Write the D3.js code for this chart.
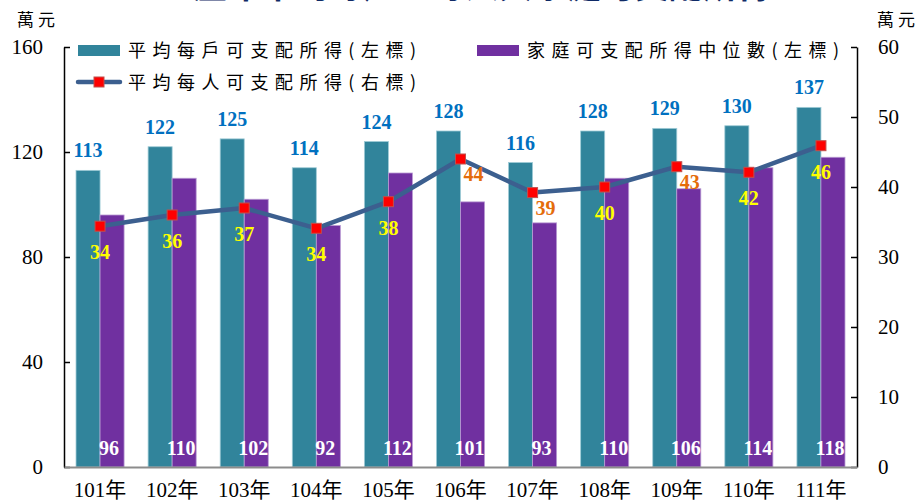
<!DOCTYPE html>
<html>
<head>
<meta charset="utf-8">
<script src="https://cdn.jsdelivr.net/npm/d3@7"></script>
<style>
  body { margin: 0; background: #fff; }
  svg { display: block; }
  .num { font-family: "Liberation Serif", "Times New Roman", serif; }
  .cjk { font-family: "Liberation Serif", "Noto Sans CJK TC", serif; }
</style>
</head>
<body>
<div id="chart"></div>
<script>
const years = ["101年", "102年", "103年", "104年", "105年", "106年", "107年", "108年", "109年", "110年", "111年"];
const avgHousehold = [113, 122, 125, 114, 124, 128, 116, 128, 129, 130, 137];
const medianHousehold = [96, 110, 102, 92, 112, 101, 93, 110, 106, 114, 118];
const avgPerPerson = [34.4, 36.0, 37.0, 34.1, 37.9, 44.0, 39.2, 40.0, 42.9, 42.1, 45.9];
const leftTicks = [0, 40, 80, 120, 160];
const rightTicks = [0, 10, 20, 30, 40, 50, 60];
// labels drawn in orange beside the marker instead of yellow below
const orangeLabels = ["106年", "107年", "109年"];

const width = 920;
const height = 502;
const margin = { top: 47, right: 63, bottom: 35, left: 64 };

const teal = "#31849B";
const purple = "#7030A0";
const lineColor = "#3C5F8F";

const svg = d3.select("#chart")
    .append("svg")
    .attr("width", width)
    .attr("height", height)
    .attr("viewBox", [0, 0, width, height]);

const x0 = d3.scaleBand()
    .domain(years)
    .range([margin.left, width - margin.right])
    .paddingInner(1 / 3)
    .paddingOuter(1 / 6);

const x1 = d3.scaleBand()
    .domain(["avg", "median"])
    .range([0, x0.bandwidth()]);

const yL = d3.scaleLinear().domain([0, 160]).range([height - margin.bottom, margin.top]);
const yR = d3.scaleLinear().domain([0, 60]).range([height - margin.bottom, margin.top]);

const cx = d => x0(d) + x0.bandwidth() / 2;

// title (cut off at the top of the picture, as in the source)
svg.append("text")
    .attr("x", 482)
    .attr("y", -2)
    .attr("text-anchor", "middle")
    .attr("font-family", "Noto Sans CJK TC")
    .attr("font-weight", "bold")
    .attr("font-size", 34)
    .attr("fill", "#0F2A66")
    .text("歷年平均每戶、每人與家庭可支配所得");

// unit labels
svg.append("text").attr("class", "cjk").attr("x", 17).attr("y", 26)
    .attr("font-size", 17).attr("letter-spacing", 4).text("萬元");
svg.append("text").attr("class", "cjk").attr("x", 877).attr("y", 26)
    .attr("font-size", 17).attr("letter-spacing", 4).text("萬元");

// bars
const groups = svg.append("g")
    .selectAll("g")
    .data(years)
    .join("g")
    .attr("transform", d => "translate(" + x0(d) + ",0)");

groups.append("rect")
    .attr("x", x1("avg"))
    .attr("width", x1.bandwidth())
    .attr("y", (d, i) => yL(avgHousehold[i]))
    .attr("height", (d, i) => yL(0) - yL(avgHousehold[i]))
    .attr("fill", teal)
    .attr("stroke", "#9FCBD6")
    .attr("stroke-width", 0.8);

groups.append("rect")
    .attr("x", x1("median"))
    .attr("width", x1.bandwidth())
    .attr("y", (d, i) => yL(medianHousehold[i]))
    .attr("height", (d, i) => yL(0) - yL(medianHousehold[i]))
    .attr("fill", purple)
    .attr("stroke", "#B89AD3")
    .attr("stroke-width", 0.8);

// bar value labels
groups.append("text")
    .attr("class", "num")
    .attr("x", x1("avg") + x1.bandwidth() / 2)
    .attr("y", (d, i) => yL(avgHousehold[i]) - 13)
    .attr("text-anchor", "middle")
    .attr("font-size", 20)
    .attr("font-weight", "bold")
    .attr("fill", "#0070C0")
    .text((d, i) => avgHousehold[i]);

groups.append("text")
    .attr("class", "num")
    .attr("x", x1("median") + x1.bandwidth() / 2 - 3)
    .attr("y", yL(0) - 12)
    .attr("text-anchor", "middle")
    .attr("font-size", 20)
    .attr("font-weight", "bold")
    .attr("fill", "#fff")
    .text((d, i) => medianHousehold[i]);

// axes
const axisL = svg.append("g")
    .attr("transform", "translate(" + margin.left + ",0)")
    .call(d3.axisLeft(yL).tickValues(leftTicks).tickSize(-6).tickSizeOuter(0).tickPadding(21));

const axisR = svg.append("g")
    .attr("transform", "translate(" + (width - margin.right) + ",0)")
    .call(d3.axisRight(yR).tickValues(rightTicks).tickSize(-6).tickSizeOuter(0).tickPadding(21));

const axisB = svg.append("g")
    .attr("transform", "translate(0," + yL(0) + ")")
    .call(d3.axisBottom(x0).tickSize(0).tickPadding(15));

[axisL, axisR].forEach(a => {
    a.select(".domain").attr("stroke", "#000").attr("stroke-width", 1.5);
    a.selectAll(".tick line").attr("stroke", "#000").attr("stroke-width", 1.5);
    a.selectAll("text")
        .attr("class", "num")
        .attr("font-size", 21)
        .attr("fill", "#000");
});
axisL.selectAll("text").attr("text-anchor", "end");
axisB.select(".domain").attr("stroke", "#8C8C8C").attr("stroke-width", 2);
axisB.selectAll("text")
    .attr("class", "cjk")
    .attr("font-size", 21)
    .attr("fill", "#000");

// line series on right axis
const line = d3.line()
    .x((d, i) => cx(years[i]))
    .y(d => yR(d));

svg.append("path")
    .datum(avgPerPerson)
    .attr("fill", "none")
    .attr("stroke", lineColor)
    .attr("stroke-width", 4.5)
    .attr("stroke-linejoin", "round")
    .attr("d", line);

svg.append("g")
    .selectAll("rect")
    .data(avgPerPerson)
    .join("rect")
    .attr("x", (d, i) => cx(years[i]) - 5)
    .attr("y", d => yR(d) - 5)
    .attr("width", 10)
    .attr("height", 10)
    .attr("fill", "#FF0000")
    .attr("stroke", "#C0504D")
    .attr("stroke-width", 1);

svg.append("g")
    .selectAll("text")
    .data(avgPerPerson)
    .join("text")
    .attr("class", "num")
    .attr("x", (d, i) => cx(years[i]) + (orangeLabels.includes(years[i]) ? 13 : 0))
    .attr("y", (d, i) => yR(d) + (orangeLabels.includes(years[i]) ? 22 : 33))
    .attr("text-anchor", "middle")
    .attr("font-size", 20)
    .attr("font-weight", "bold")
    .attr("fill", (d, i) => orangeLabels.includes(years[i]) ? "#E46C0A" : "#FFFF00")
    .text(d => d3.format(".0f")(d));

// legend
const legend = svg.append("g");
const legendItems = [
    { label: "平均每戶可支配所得(左標)", kind: "bar", color: teal, x: 78, y: 50, w: 288 },
    { label: "家庭可支配所得中位數(左標)", kind: "bar", color: purple, x: 477, y: 50, w: 312 },
    { label: "平均每人可支配所得(右標)", kind: "line", color: lineColor, x: 78, y: 82, w: 288 }
];

legendItems.forEach(it => {
    if (it.kind === "bar") {
        legend.append("rect")
            .attr("x", it.x).attr("y", it.y - 5)
            .attr("width", 42).attr("height", 11)
            .attr("fill", it.color);
    } else {
        legend.append("line")
            .attr("x1", it.x).attr("x2", it.x + 42)
            .attr("y1", it.y).attr("y2", it.y)
            .attr("stroke", it.color)
            .attr("stroke-width", 4.5)
            .attr("stroke-linecap", "round");
        legend.append("rect")
            .attr("x", it.x + 16).attr("y", it.y - 5)
            .attr("width", 10).attr("height", 10)
            .attr("fill", "#FF0000")
            .attr("stroke", "#C0504D");
    }
    legend.append("text")
        .attr("x", it.x + 50)
        .attr("y", it.y + 7)
        .attr("font-family", "Noto Sans CJK TC")
        .attr("font-size", 18)
        .attr("textLength", it.w)
        .attr("lengthAdjust", "spacing")
        .attr("fill", "#000")
        .text(it.label);
});
</script>
</body>
</html>
